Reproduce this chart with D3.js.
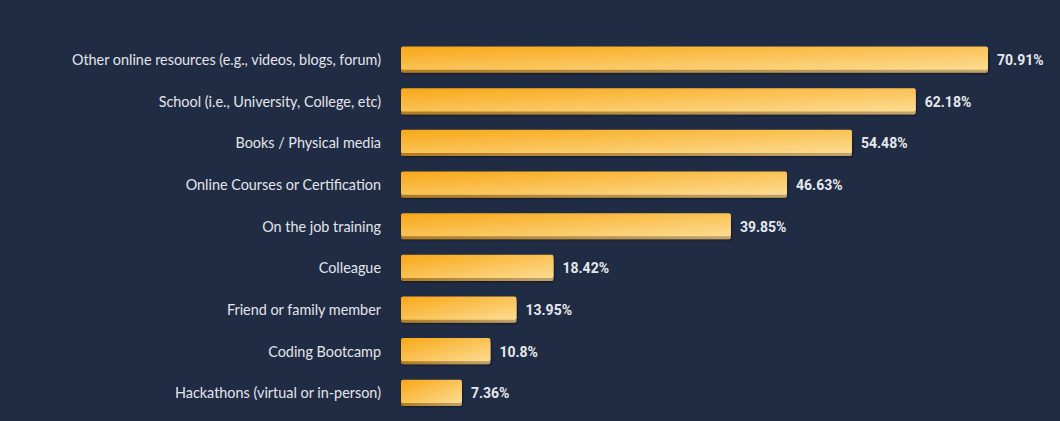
<!DOCTYPE html>
<html><head><meta charset="utf-8">
<script src="https://cdn.jsdelivr.net/npm/d3@7"></script>
<style>
html,body{margin:0;padding:0;background:#202b44;}
svg{display:block;}
</style></head>
<body>
<svg id="chart" width="1060" height="421"></svg>
<script>
const categories = [
  "Other online resources (e.g., videos, blogs, forum)",
  "School (i.e., University, College, etc)",
  "Books / Physical media",
  "Online Courses or Certification",
  "On the job training",
  "Colleague",
  "Friend or family member",
  "Coding Bootcamp",
  "Hackathons (virtual or in-person)"
];
const values = [70.91, 62.18, 54.48, 46.63, 39.85, 18.42, 13.95, 10.8, 7.36];
const valueLabels = ["70.91%", "62.18%", "54.48%", "46.63%", "39.85%", "18.42%", "13.95%", "10.8%", "7.36%"];

const W = 1060, H = 421;
const svg = d3.select("#chart");
svg.append("rect").attr("width", W).attr("height", H).attr("fill", "#202b44");

const x = d3.scaleLinear().domain([0, 70.91]).range([401, 988]);
const y = d3.scaleBand().domain(categories).range([39, 413.5]).paddingInner(0.37).paddingOuter(0.18);

const defs = svg.append("defs");
const g1 = defs.append("linearGradient").attr("id", "face").attr("x1", 0).attr("y1", 0).attr("x2", 1).attr("y2", 1);
g1.append("stop").attr("offset", "0%").attr("stop-color", "#f8a817");
g1.append("stop").attr("offset", "100%").attr("stop-color", "#fcdc93");
const g2 = defs.append("linearGradient").attr("id", "side").attr("x1", 0).attr("y1", 0).attr("x2", 1).attr("y2", 0);
g2.append("stop").attr("offset", "0%").attr("stop-color", "#b07d22");
g2.append("stop").attr("offset", "100%").attr("stop-color", "#c0a26a");
const f = defs.append("filter").attr("id", "ds").attr("x", "-5%").attr("y", "-30%").attr("width", "110%").attr("height", "170%");
f.append("feDropShadow").attr("dx", 1).attr("dy", 1).attr("stdDeviation", 1).attr("flood-color", "#000").attr("flood-opacity", 0.45);

const bh = y.bandwidth();
const rows = svg.append("g").selectAll("g").data(categories).join("g");

rows.append("rect")
  .attr("x", x(0)).attr("y", (d) => y(d) + 3)
  .attr("width", (d, i) => x(values[i]) - x(0)).attr("height", bh - 3)
  .attr("rx", 2).attr("fill", "url(#side)").attr("filter", "url(#ds)");
rows.append("rect")
  .attr("x", x(0)).attr("y", (d) => y(d))
  .attr("width", (d, i) => x(values[i]) - x(0)).attr("height", bh - 3)
  .attr("rx", 2).attr("fill", "url(#face)");

rows.append("text")
  .attr("x", 381).attr("y", (d) => y(d) + bh / 2 + 0.5)
  .attr("dy", "0.35em").attr("text-anchor", "end")
  .attr("font-family", "Lato, 'Open Sans', sans-serif").attr("font-size", 14.4)
  .attr("fill", "#e3e5ea").text((d) => d);

rows.append("text")
  .attr("x", (d, i) => x(values[i]) + 9).attr("y", (d) => y(d) + bh / 2 + 0.5)
  .attr("dy", "0.35em").attr("text-anchor", "start")
  .attr("font-family", "Roboto, sans-serif").attr("font-weight", "bold").attr("font-size", 14)
  .attr("fill", "#e6e8ee").text((d, i) => valueLabels[i]);
</script>
</body></html>
